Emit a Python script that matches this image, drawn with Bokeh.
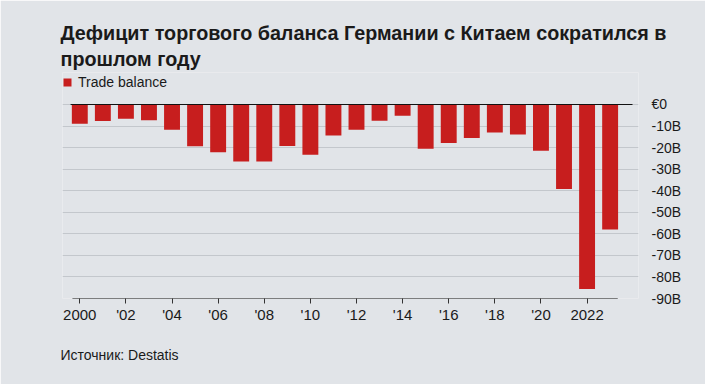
from bokeh.plotting import figure
from bokeh.models import (FixedTicker, Range1d, Legend, LegendItem, Title,
                          ColumnDataSource)
from bokeh.embed import file_html
from bokeh.resources import INLINE

# ---- data ----
years = list(range(2000, 2024))
balance = [-8.9, -7.7, -6.6, -7.3, -11.7, -19.4, -22.2, -26.4, -26.5, -19.3,
           -23.3, -14.4, -11.7, -7.6, -5.2, -20.5, -17.9, -15.6, -13.0, -13.9,
           -21.5, -39.2, -85.6, -58.0]
x_ticks = list(range(2000, 2023, 2))
x_labels = ["2000", "'02", "'04", "'06", "'08", "'10", "'12", "'14", "'16",
            "'18", "'20", "2022"]
y_ticks = [0, -10, -20, -30, -40, -50, -60, -70, -80, -90]
y_labels = ["€0", "-10B", "-20B", "-30B", "-40B", "-50B", "-60B", "-70B",
            "-80B", "-90B"]
title_lines = ["Дефицит торгового баланса Германии с Китаем сократился в",
               "прошлом году"]
series_name = "Trade balance"
source_text = "Источник: Destatis"

BG = "#e1e4e8"
RED = "#c71e1e"
TXT = "#1a1a1a"
FONT = "Liberation Sans"

x0, x1 = 1999.25, 2024.23
p = figure(width=705, height=384, output_backend="svg", toolbar_location=None,
           title=None,
           x_range=Range1d(x0, x1), y_range=Range1d(-90, 14.84),
           y_axis_location="right",
           min_border_left=62, min_border_right=67,
           min_border_top=72, min_border_bottom=86,
           background_fill_color=BG, border_fill_color=BG)
p.outline_line_color = None

src = ColumnDataSource(dict(year=years, val=balance))
bars = p.vbar(x="year", top="val", bottom=0, width=0.69, source=src,
              fill_color=RED, line_color=None)

p.xgrid.grid_line_color = None
p.ygrid.ticker = FixedTicker(ticks=y_ticks)
p.ygrid.grid_line_color = "#c3c7cc"
p.ygrid.grid_line_width = 1

# zero line and bottom axis line
p.segment(x0=[years[0] - 0.4], x1=[years[-1] + 0.97], y0=[0], y1=[0],
          line_color="#111111", line_width=1.2)
p.segment(x0=[years[0] - 0.32], x1=[years[-1] + 0.33], y0=[-90], y1=[-90],
          line_color="#111111", line_width=1.2)

xa = p.xaxis[0]
xa.ticker = FixedTicker(ticks=x_ticks)
xa.major_label_overrides = {t: l for t, l in zip(x_ticks, x_labels)}
xa.axis_line_color = None
xa.major_tick_line_color = "#333333"
xa.major_tick_in = 0
xa.major_tick_out = 5
xa.minor_tick_line_color = None
xa.major_label_standoff = 2
xa.major_label_text_font = FONT
xa.major_label_text_font_size = "15px"
xa.major_label_text_color = TXT

ya = p.yaxis[0]
ya.ticker = FixedTicker(ticks=y_ticks)
ya.major_label_overrides = {t: l for t, l in zip(y_ticks, y_labels)}
ya.axis_line_color = None
ya.major_tick_line_color = None
ya.minor_tick_line_color = None
ya.major_label_standoff = 7
ya.major_label_text_font = FONT
ya.major_label_text_font_size = "14px"
ya.major_label_text_color = TXT
ya.major_label_text_align = "left"

# ---- legend (inside frame, top-left) ----
legend = Legend(items=[LegendItem(label=series_name, renderers=[bars])],
                location=(0, 208), orientation="horizontal",
                glyph_width=10, glyph_height=10, label_standoff=6,
                padding=0, margin=0, spacing=0,
                background_fill_alpha=0, border_line_color=None,
                label_text_font=FONT, label_text_font_size="14px",
                label_text_color=TXT, label_height=10)
p.add_layout(legend)

# ---- title lines (added outward) ----
for txt, so in zip(reversed(title_lines), [5, 0]):
    p.add_layout(Title(text=txt, align="left", offset=-2, standoff=so,
                       text_font=FONT, text_font_style="bold",
                       text_font_size="19.75px", text_color=TXT), "above")

# ---- source (below) ----
p.add_layout(Title(text=source_text, align="left", offset=-2, standoff=38,
                   text_font=FONT, text_font_style="normal",
                   text_font_size="14px", text_color=TXT), "below")

open("out.html", "w").write(file_html(p, INLINE))
